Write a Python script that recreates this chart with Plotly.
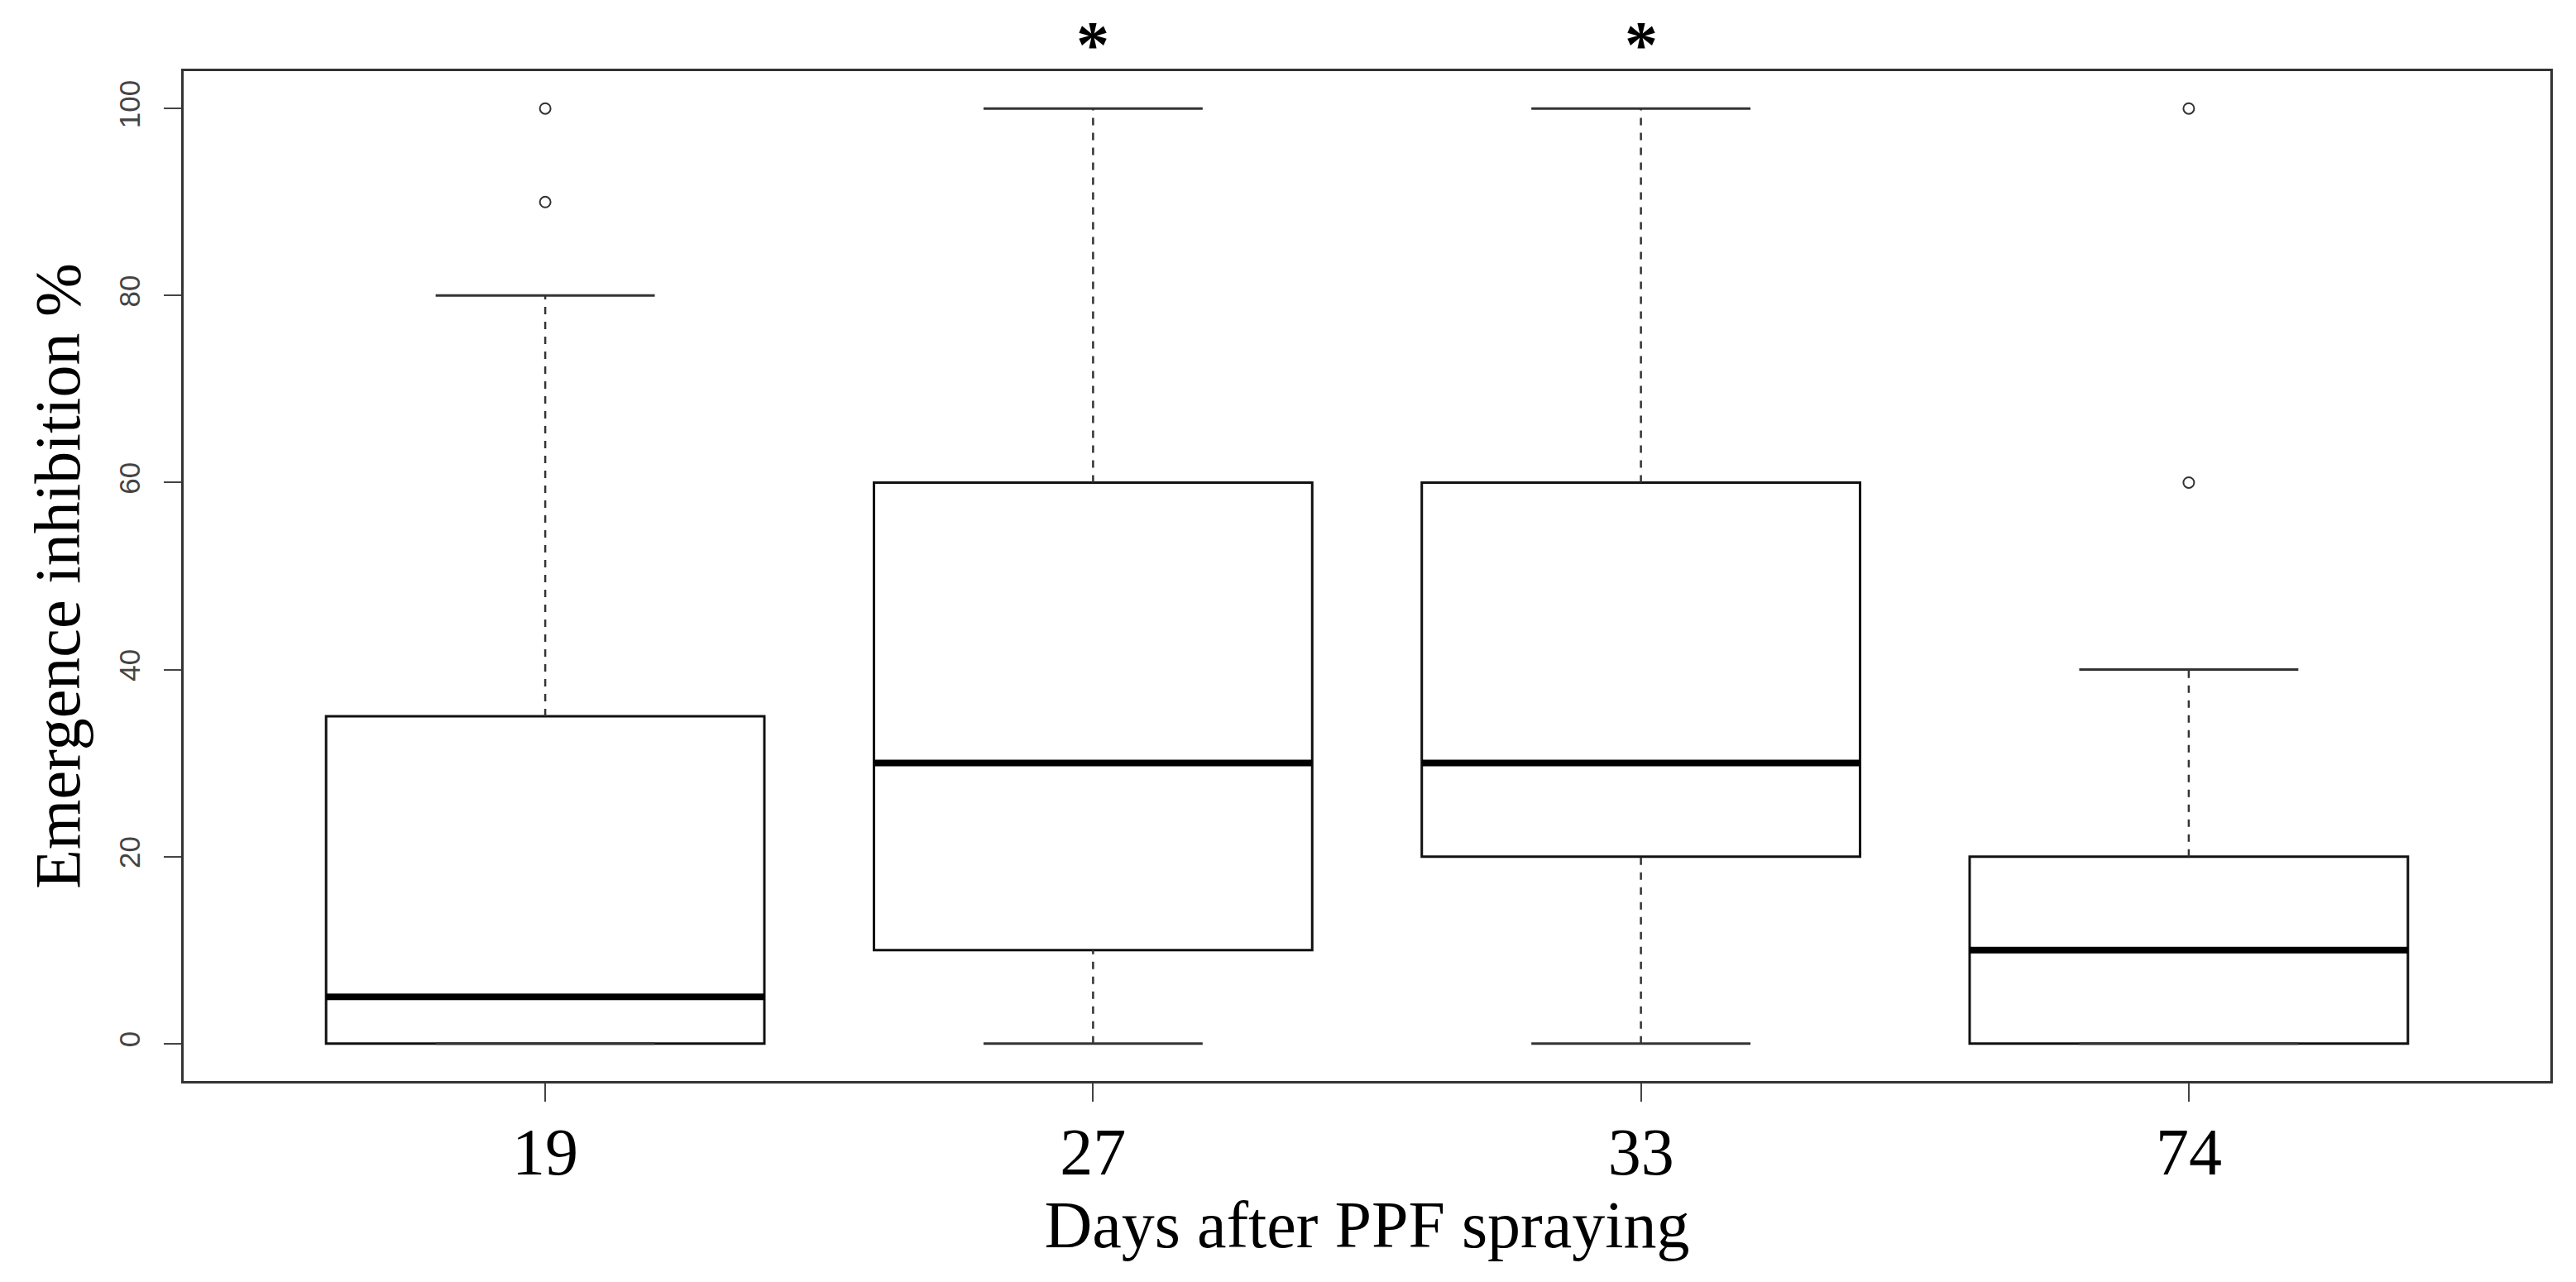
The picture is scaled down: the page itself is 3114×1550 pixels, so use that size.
import plotly.graph_objects as go

# days after spraying (groups) and their box statistics
days = ["19", "27", "33", "74"]
lower_whisker = [0, 0, 0, 0]
q1 = [0, 10, 20, 0]
median = [5, 30, 30, 10]
q3 = [35, 60, 60, 20]
upper_whisker = [80, 100, 100, 40]
outliers = [[90, 100], [], [], [60, 100]]
significant = [False, True, True, False]

pos = list(range(1, len(days) + 1))
box_w = 0.8
cap_w = 0.4
line_col = "#111111"

fig = go.Figure()

for i, p in enumerate(pos):
    # box only (fences at quartiles, whiskers drawn separately below)
    fig.add_trace(go.Box(
        x=[p],
        q1=[q1[i]], median=[median[i]], q3=[q3[i]],
        lowerfence=[q1[i]], upperfence=[q3[i]],
        width=box_w,
        fillcolor="rgba(0,0,0,0)",
        line=dict(color=line_col, width=3),
        showlegend=False,
        hoverinfo="skip",
    ))
    # thick median
    fig.add_trace(go.Scatter(
        x=[p - box_w / 2, p + box_w / 2], y=[median[i], median[i]],
        mode="lines", line=dict(color="black", width=8),
        showlegend=False, hoverinfo="skip",
    ))
    # dashed whiskers
    for a, b in [(q3[i], upper_whisker[i]), (lower_whisker[i], q1[i])]:
        if b > a:
            fig.add_trace(go.Scatter(
                x=[p, p], y=[a, b], mode="lines",
                line=dict(color="#333333", width=2.5, dash="dash"),
                showlegend=False, hoverinfo="skip",
            ))
    # staples
    for v in [upper_whisker[i], lower_whisker[i]]:
        fig.add_trace(go.Scatter(
            x=[p - cap_w / 2, p + cap_w / 2], y=[v, v], mode="lines",
            line=dict(color="#333333", width=3),
            showlegend=False, hoverinfo="skip",
        ))
    # outliers
    if outliers[i]:
        fig.add_trace(go.Scatter(
            x=[p] * len(outliers[i]), y=outliers[i], mode="markers",
            marker=dict(symbol="circle-open", size=13, color="#333333",
                        line=dict(width=2)),
            showlegend=False, hoverinfo="skip",
        ))
    if significant[i]:
        fig.add_annotation(
            x=p, xref="x", y=1.026, yref="y domain", text="<b>*</b>",
            showarrow=False,
            font=dict(family="Liberation Serif", size=80, color="black"),
            yanchor="middle",
        )

fig.update_layout(
    width=3114,
    height=1550,
    margin=dict(l=214, r=39, t=78, b=251),
    plot_bgcolor="white",
    paper_bgcolor="white",
)

fig.update_xaxes(
    range=[0.34, 4.66],
    tickvals=pos,
    ticktext=days,
    ticks="outside", ticklen=22, tickwidth=2, tickcolor="#444444",
    tickfont=dict(family="Liberation Serif", size=80, color="black"),
    ticklabelstandoff=-8,
    showline=True, mirror=True, linecolor="#333333", linewidth=3,
    showgrid=False, zeroline=False,
    title=dict(text="Days after PPF spraying",
               font=dict(family="Liberation Serif", size=80, color="black"),
               standoff=16),
)
fig.update_yaxes(
    range=[-4, 104],
    tickvals=[0, 20, 40, 60, 80, 100],
    tickangle=-90,
    ticks="outside", ticklen=21, tickwidth=2, tickcolor="#444444",
    tickfont=dict(family="Liberation Sans", size=35, color="#444444"),
    ticklabelstandoff=15,
    showline=True, mirror=True, linecolor="#333333", linewidth=3,
    showgrid=False, zeroline=False,
    title=dict(text="Emergence inhibition %",
               font=dict(family="Liberation Serif", size=78, color="black"),
               standoff=15),
)

fig.write_html("out.html")
